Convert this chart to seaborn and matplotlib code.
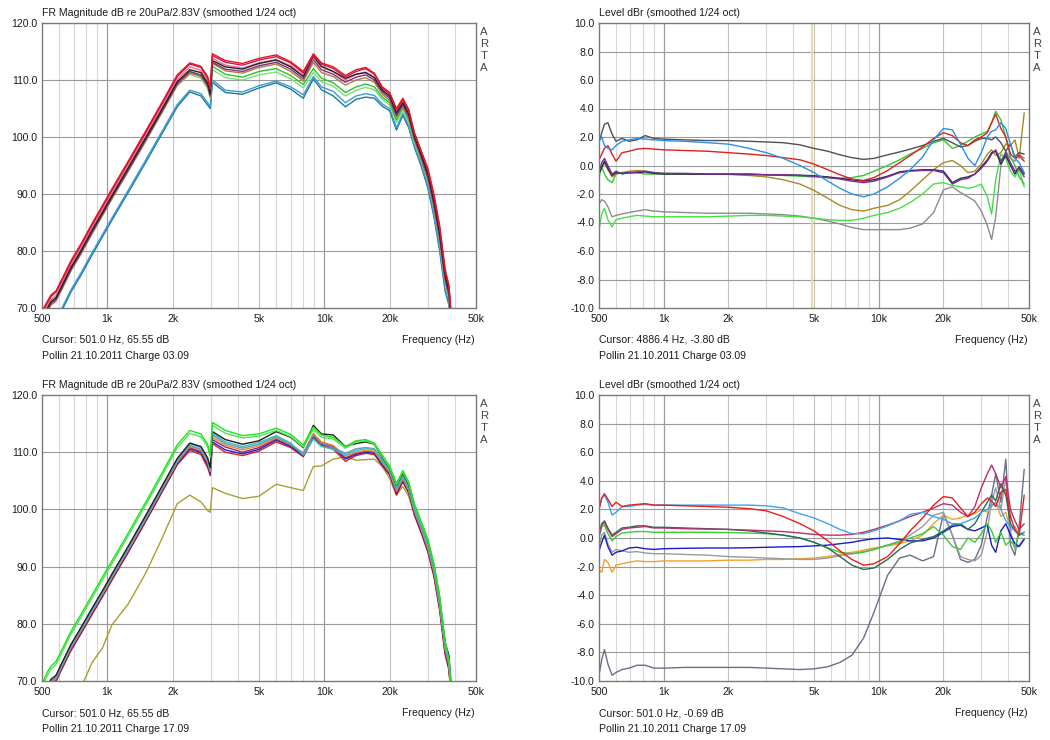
import matplotlib
matplotlib.use("Agg")
import matplotlib.pyplot as plt
import pandas as pd
import seaborn as sns
from matplotlib.ticker import FixedLocator, NullLocator

sns.set_theme(style="white")
plt.rcParams["font.family"] = ["Liberation Sans", "DejaVu Sans"]

# ---------------------------------------------------------------- frequency grids (Hz)
freq_fr = [505, 530, 550, 580, 620, 680, 760, 850, 950, 1050,
           1250, 1500, 1800, 2100, 2400, 2700, 2900, 2980, 3050, 3500,
           4200, 5000, 6000, 7000, 8000, 8900, 9700, 11000, 12500, 14000,
           15500, 17000, 18500, 20000, 21500, 23000, 24500, 26000, 28000, 30000,
           32000, 34000, 36000, 37500, 38600]

freq_rel = [500, 515, 530, 550, 575, 600, 640, 690, 750, 820,
            900, 1000, 1250, 1600, 2000, 2500, 3000, 3600, 4300, 5000,
            5800, 6600, 7500, 8500, 9500, 11000, 12500, 14000, 16000, 18000,
            20000, 22000, 24000, 26000, 28000, 30000, 32000, 33500, 35000, 37000,
            39000, 41000, 43000, 45000, 47500]

# ---------------------------------------------------------------- batch 03.09, SPL (dB)
fr_a_teal = [64.2, 65.6, 66.8, 67.5, 69.7, 72.8, 75.9, 79.3, 82.5, 85.4,
             90.3, 95.5, 100.8, 105.3, 107.9, 107.2, 105.6, 105.0, 109.6, 107.8,
             107.5, 108.6, 109.5, 108.4, 106.8, 110.2, 108.3, 107.2, 105.3, 106.6,
             107.0, 106.8, 105.4, 104.6, 101.2, 103.8, 101.6, 98.2, 94.8, 91.0,
             86.0, 80.0, 73.0, 70.5, 64.5]
fr_a_blue = [64.6, 66.0, 67.2, 67.9, 70.1, 73.2, 76.3, 79.7, 82.9, 85.8,
             90.7, 95.9, 101.2, 105.7, 108.2, 107.6, 106.0, 105.3, 110.0, 108.2,
             107.9, 109.0, 109.8, 108.8, 107.4, 110.6, 108.8, 108.0, 106.0, 107.2,
             107.6, 107.3, 105.8, 105.0, 101.6, 104.2, 102.0, 98.6, 95.2, 91.5,
             86.5, 80.5, 73.5, 71.0, 65.0]
fr_a_lightgreen = [68.2, 69.6, 70.7, 71.4, 73.6, 76.7, 79.8, 83.2, 86.4, 89.3,
                   94.2, 99.4, 104.6, 109.0, 111.0, 110.3, 108.5, 106.8, 111.8, 110.4,
                   110.0, 110.9, 111.4, 110.2, 108.6, 111.3, 109.7, 108.9, 107.2, 108.2,
                   108.7, 108.3, 106.6, 105.6, 102.5, 104.8, 102.6, 99.0, 95.8, 92.4,
                   87.5, 81.8, 74.5, 71.8, 66.0]
fr_a_green = [68.5, 69.9, 71.0, 71.7, 73.9, 77.0, 80.1, 83.5, 86.7, 89.6,
              94.5, 99.7, 105.0, 109.4, 111.4, 110.7, 108.9, 107.2, 112.4, 111.0,
              110.5, 111.5, 112.0, 110.8, 109.2, 112.0, 110.3, 109.5, 107.8, 108.8,
              109.3, 108.8, 107.0, 106.0, 103.0, 105.2, 103.0, 99.5, 96.2, 92.8,
              88.0, 82.3, 75.0, 72.2, 66.5]
fr_a_brown = [68.0, 69.4, 70.5, 71.2, 73.4, 76.5, 79.6, 83.0, 86.2, 89.1,
              94.0, 99.2, 104.5, 109.1, 111.2, 110.6, 108.8, 107.0, 112.9, 111.6,
              111.2, 112.2, 112.8, 111.5, 109.8, 113.1, 111.3, 110.6, 109.1, 110.0,
              110.4, 109.6, 107.5, 106.4, 103.5, 105.4, 103.2, 99.5, 96.0, 92.5,
              87.6, 82.0, 74.8, 72.0, 66.0]
fr_a_purple = [68.3, 69.7, 70.8, 71.5, 73.7, 76.8, 79.9, 83.3, 86.5, 89.4,
               94.3, 99.5, 104.8, 109.4, 111.5, 110.9, 109.1, 107.3, 113.1, 111.9,
               111.5, 112.5, 113.1, 111.9, 110.2, 113.6, 111.8, 111.0, 109.6, 110.5,
               110.9, 110.0, 107.9, 106.8, 103.8, 105.7, 103.6, 99.8, 96.5, 93.0,
               88.2, 82.5, 75.2, 72.4, 66.5]
fr_a_pink = [69.0, 70.4, 71.5, 72.2, 74.4, 77.5, 80.6, 84.0, 87.2, 90.1,
             95.0, 100.2, 105.5, 110.1, 112.3, 111.7, 109.8, 107.9, 113.8, 112.6,
             112.1, 113.0, 113.6, 112.5, 110.8, 113.8, 112.3, 111.4, 110.0, 111.0,
             111.4, 110.5, 108.3, 107.3, 104.5, 106.2, 104.2, 100.3, 97.0, 93.8,
             89.0, 83.6, 76.2, 73.6, 67.5]
fr_a_black = [68.6, 70.0, 71.1, 71.8, 74.0, 77.1, 80.2, 83.6, 86.8, 89.7,
              94.6, 99.8, 105.1, 109.7, 111.8, 111.3, 109.4, 107.6, 113.4, 112.3,
              111.9, 112.9, 113.5, 112.3, 110.6, 114.2, 112.4, 111.5, 110.3, 111.0,
              111.3, 110.4, 108.2, 107.2, 104.2, 106.0, 104.0, 100.1, 96.8, 93.5,
              88.6, 83.0, 75.8, 73.0, 67.0]
fr_a_crimson = [69.5, 70.9, 72.0, 72.8, 74.9, 78.0, 81.1, 84.5, 87.7, 90.6,
                95.5, 100.7, 106.0, 110.6, 112.8, 112.2, 110.3, 108.4, 114.3, 113.1,
                112.6, 113.5, 114.1, 113.0, 111.2, 114.3, 112.8, 112.0, 110.5, 111.5,
                112.0, 111.0, 108.6, 107.6, 104.8, 106.5, 104.6, 100.6, 97.4, 94.2,
                89.5, 84.0, 76.5, 74.0, 68.0]
fr_a_red = [69.8, 71.2, 72.3, 73.0, 75.2, 78.3, 81.4, 84.8, 88.0, 90.9,
            95.8, 101.0, 106.3, 110.9, 113.0, 112.4, 110.6, 108.6, 114.6, 113.4,
            112.9, 113.8, 114.4, 113.2, 111.5, 114.6, 113.0, 112.3, 110.8, 111.8,
            112.2, 111.2, 108.8, 107.8, 105.0, 106.8, 104.8, 100.8, 97.5, 94.5,
            90.0, 84.5, 77.0, 73.8, 68.0]

# ---------------------------------------------------------------- batch 17.09, SPL (dB)
fr_b_olive = [55.0, 56.5, 57.5, 59.0, 61.0, 64.0, 69.0, 73.2, 75.8, 79.8,
              83.5, 88.8, 95.2, 101.0, 102.5, 101.3, 99.8, 99.5, 103.8, 102.8,
              101.9, 102.3, 104.4, 103.8, 103.3, 107.5, 107.6, 108.8, 109.2, 108.6,
              108.7, 108.8, 107.5, 105.4, 102.5, 104.0, 102.3, 99.0, 96.0, 93.0,
              88.8, 83.2, 75.5, 72.0, 66.5]
fr_b_red = [66.5, 68.1, 69.2, 69.9, 72.2, 75.3, 78.4, 81.6, 84.7, 87.6,
            92.5, 97.8, 103.2, 107.8, 110.3, 109.6, 107.3, 105.9, 111.5, 110.0,
            109.4, 110.2, 111.8, 110.8, 109.2, 112.5, 111.2, 110.5, 108.4, 109.4,
            109.8, 109.6, 107.6, 106.0, 102.5, 104.8, 102.8, 99.0, 95.8, 92.5,
            88.2, 82.3, 74.6, 72.0, 66.0]
fr_b_blue = [66.7, 68.3, 69.4, 70.1, 72.4, 75.5, 78.6, 81.8, 84.9, 87.8,
             92.7, 98.0, 103.4, 108.0, 110.6, 109.9, 107.7, 106.2, 111.8, 110.4,
             109.7, 110.5, 112.1, 111.0, 109.4, 112.8, 111.4, 110.8, 108.8, 109.6,
             110.0, 109.8, 107.8, 106.2, 102.8, 105.0, 103.0, 99.3, 96.0, 92.8,
             88.5, 82.7, 75.0, 72.3, 66.5]
fr_b_purple = [66.9, 68.5, 69.6, 70.3, 72.6, 75.7, 78.8, 82.0, 85.1, 88.0,
               92.9, 98.2, 103.6, 108.2, 110.8, 110.1, 108.0, 106.5, 112.2, 110.9,
               110.0, 110.8, 112.3, 111.2, 109.6, 113.0, 111.6, 111.0, 109.0, 109.8,
               110.2, 110.0, 108.0, 106.4, 103.0, 105.2, 103.2, 99.5, 96.3, 93.0,
               88.8, 83.0, 75.4, 72.6, 66.8]
fr_b_orange = [67.0, 68.6, 69.7, 70.4, 72.7, 75.8, 78.9, 82.1, 85.2, 88.1,
               93.0, 98.3, 103.7, 108.3, 111.0, 110.3, 108.3, 106.6, 112.6, 111.2,
               110.4, 111.1, 112.5, 111.3, 109.9, 113.3, 111.8, 111.2, 109.3, 110.0,
               110.3, 110.2, 108.2, 106.5, 103.2, 105.4, 103.3, 99.7, 96.5, 93.2,
               89.0, 83.2, 75.6, 72.8, 67.0]
fr_b_steel = [67.2, 68.8, 69.9, 70.6, 72.9, 76.0, 79.1, 82.3, 85.4, 88.3,
              93.2, 98.5, 103.9, 108.5, 111.2, 110.5, 108.5, 106.8, 113.0, 111.5,
              110.7, 111.4, 112.7, 111.4, 109.8, 113.0, 111.5, 110.8, 109.8, 110.6,
              110.8, 110.6, 108.5, 106.8, 103.5, 105.7, 103.6, 100.0, 96.8, 93.6,
              89.4, 83.6, 76.0, 73.2, 67.2]
fr_b_cyan = [67.4, 69.0, 70.1, 70.8, 73.1, 76.2, 79.3, 82.5, 85.6, 88.5,
             93.4, 98.7, 104.1, 108.7, 111.5, 110.8, 108.8, 107.0, 113.3, 111.8,
             111.0, 111.7, 112.9, 111.6, 109.5, 112.3, 111.0, 110.5, 109.5, 110.3,
             110.6, 110.5, 108.4, 106.8, 103.8, 105.9, 103.9, 100.3, 97.0, 93.8,
             89.6, 84.0, 76.3, 73.5, 67.5]
fr_b_black = [67.6, 69.2, 70.3, 71.0, 73.3, 76.4, 79.5, 82.7, 85.8, 88.7,
              93.6, 98.9, 104.3, 108.9, 111.6, 111.0, 109.0, 107.3, 113.6, 112.2,
              111.4, 112.0, 113.6, 112.6, 110.8, 114.7, 113.2, 113.0, 111.0, 111.5,
              111.8, 111.4, 109.0, 107.2, 104.2, 106.3, 104.3, 100.8, 97.6, 94.5,
              90.2, 84.6, 76.8, 74.5, 68.5]
fr_b_green2 = [69.4, 71.0, 72.1, 72.9, 75.1, 78.2, 81.3, 84.5, 87.7, 90.5,
               95.4, 100.7, 106.1, 110.8, 113.3, 112.7, 110.9, 109.1, 114.7, 113.3,
               112.5, 112.8, 113.8, 112.7, 110.9, 114.0, 112.6, 112.3, 110.7, 111.8,
               112.0, 111.4, 109.2, 107.3, 104.3, 106.5, 104.5, 100.7, 97.5, 94.5,
               90.2, 84.5, 76.8, 73.8, 68.0]
fr_b_green = [69.9, 71.6, 72.6, 73.4, 75.6, 78.7, 81.8, 85.0, 88.2, 91.0,
              95.9, 101.2, 106.6, 111.3, 113.8, 113.2, 111.4, 109.6, 115.2, 113.8,
              112.9, 113.2, 114.2, 113.1, 111.3, 114.4, 113.0, 112.6, 111.0, 112.0,
              112.2, 111.6, 109.5, 107.6, 104.6, 106.8, 104.8, 101.0, 97.8, 94.8,
              90.5, 84.8, 77.0, 73.5, 68.0]

# ---------------------------------------------------------------- batch 03.09, relative level (dBr)
rel_a_gray = [-2.7, -2.4, -2.5, -2.9, -3.6, -3.5, -3.4, -3.3, -3.2, -3.1,
              -3.2, -3.25, -3.3, -3.35, -3.35, -3.35, -3.4, -3.45, -3.55, -3.7,
              -3.9, -4.1, -4.35, -4.5, -4.5, -4.5, -4.5, -4.4, -4.1, -3.3,
              -1.7, -1.5, -1.9, -2.2, -2.5, -3.2, -4.2, -5.2, -3.6, 0.0,
              1.0, 0.5, 0.3, 0.8, 0.5]
rel_a_lightgreen = [-4.5, -3.4, -3.0, -3.8, -4.3, -3.8, -3.7, -3.6, -3.5, -3.55,
                    -3.6, -3.6, -3.6, -3.6, -3.55, -3.5, -3.5, -3.55, -3.6, -3.7,
                    -3.8, -3.85, -3.85, -3.7, -3.5, -3.3, -3.0, -2.6, -2.0, -1.3,
                    -1.2, -1.4, -1.5, -1.6, -1.5, -1.3, -2.2, -3.4, -1.0, 0.8,
                    0.5, -0.4, -0.8, -0.3, -1.5]
rel_a_olive = [-0.5, -0.2, 0.2, -0.3, -0.8, -0.6, -0.5, -0.4, -0.35, -0.4,
               -0.5, -0.55, -0.6, -0.6, -0.62, -0.7, -0.8, -1.0, -1.3, -1.75,
               -2.3, -2.8, -3.1, -3.2, -3.0, -2.8, -2.4, -1.8, -1.0, -0.3,
               0.2, 0.35, 0.0, -0.5, -0.4, 0.1, 0.8, 1.1, 0.7, 0.9,
               1.5, 1.4, 1.8, 0.5, 3.7]
rel_a_green = [-0.8, -0.1, -0.6, -1.0, -1.2, -0.6, -0.5, -0.55, -0.5, -0.6,
               -0.6, -0.6, -0.6, -0.6, -0.6, -0.6, -0.65, -0.7, -0.75, -0.8,
               -0.85, -0.9, -0.85, -0.7, -0.4, 0.0, 0.4, 0.8, 1.2, 1.6,
               1.8, 1.2, 1.4, 1.7, 2.0, 2.2, 2.4, 3.0, 3.8, 3.2,
               2.0, 0.6, 0.0, -0.8, -1.3]
rel_a_navy = [-0.6, -0.1, 0.3, -0.2, -0.7, -0.5, -0.55, -0.5, -0.5, -0.45,
              -0.55, -0.6, -0.6, -0.62, -0.62, -0.63, -0.65, -0.66, -0.68, -0.72,
              -0.8, -0.9, -1.0, -1.1, -1.0, -0.75, -0.45, -0.35, -0.3, -0.3,
              -0.4, -1.2, -0.9, -0.8, -0.6, -0.1, 0.4, 0.9, 1.0, 0.1,
              0.7, 0.0, -0.6, -0.1, -0.6]
rel_a_purple = [-0.4, 0.2, 0.5, 0.0, -0.6, -0.4, -0.6, -0.5, -0.45, -0.4,
                -0.5, -0.55, -0.55, -0.6, -0.6, -0.6, -0.65, -0.65, -0.7, -0.75,
                -0.85, -0.95, -1.1, -1.2, -1.1, -0.8, -0.5, -0.4, -0.35, -0.35,
                -0.5, -1.3, -1.0, -0.9, -0.6, -0.2, 0.3, 0.8, 1.1, 0.3,
                0.9, 0.2, -0.4, -0.2, -0.8]
rel_a_darkgray = [1.6, 2.3, 2.9, 3.0, 2.2, 1.7, 1.9, 1.7, 1.8, 2.1,
                  1.9, 1.85, 1.8, 1.75, 1.75, 1.7, 1.65, 1.6, 1.45, 1.2,
                  1.0, 0.75, 0.55, 0.43, 0.5, 0.75, 0.95, 1.15, 1.4, 1.7,
                  1.9, 1.6, 1.3, 1.4, 1.7, 1.9, 1.9, 1.8, 2.0, 1.6,
                  1.0, 1.5, 0.6, 0.9, 0.8]
rel_a_red = [0.4, 0.8, 1.2, 1.4, 0.8, 0.3, 0.9, 1.0, 1.15, 1.2,
             1.15, 1.1, 1.05, 1.0, 0.9, 0.8, 0.7, 0.55, 0.4, 0.1,
             -0.3, -0.65, -0.95, -1.05, -0.85, -0.35, 0.2, 0.7, 1.3, 1.9,
             2.3, 2.1, 1.6, 1.4, 1.8, 2.0, 2.3, 3.0, 3.6, 2.6,
             2.0, 0.8, 0.5, 0.7, 0.3]
rel_a_blue = [1.7, 2.0, 1.4, 1.2, 1.1, 1.4, 1.7, 1.8, 1.9, 1.85,
              1.8, 1.75, 1.7, 1.6, 1.5, 1.2, 0.9, 0.5, 0.0, -0.5,
              -1.1, -1.6, -2.0, -2.2, -2.0, -1.5, -0.9, -0.3, 0.6, 1.8,
              2.6, 2.5, 1.5, 0.5, 0.0, 0.9, 2.0, 2.4, 2.5, 3.0,
              2.6, 1.5, 0.5, 0.2, -0.5]

# ---------------------------------------------------------------- batch 17.09, relative level (dBr)
rel_b_slate = [-9.6, -8.5, -7.8, -8.8, -9.6, -9.4, -9.2, -9.1, -8.9, -8.9,
               -9.1, -9.1, -9.05, -9.05, -9.05, -9.05, -9.1, -9.15, -9.2, -9.15,
               -9.0, -8.7, -8.2, -7.0, -5.2, -2.6, -1.4, -1.2, -1.6, -1.3,
               1.7, 0.2, -1.5, -1.7, -1.5, -0.5, 1.5, 3.0, 4.5, 2.5,
               5.5, -0.5, -1.2, 0.8, 4.8]
rel_b_orange = [-2.2, -2.4, -1.5, -1.7, -2.4, -1.9, -1.8, -1.7, -1.6, -1.65,
                -1.65, -1.6, -1.6, -1.6, -1.55, -1.55, -1.5, -1.5, -1.45, -1.4,
                -1.3, -1.15, -1.0, -0.85, -0.7, -0.55, -0.4, -0.2, 0.2, 1.0,
                1.6, 1.3, 1.4, 1.6, 1.7, 2.0, 1.8, 2.2, 2.5, 1.5,
                1.8, 0.5, 0.8, 0.3, 0.2]
rel_b_gray = [-0.6, 0.2, 0.4, -0.4, -1.0, -0.8, -0.9, -1.0, -0.95, -1.05,
              -1.1, -1.1, -1.15, -1.2, -1.3, -1.35, -1.4, -1.45, -1.5, -1.5,
              -1.4, -1.25, -1.1, -0.95, -0.8, -0.5, -0.2, 0.2, 0.8, 1.6,
              1.8, 0.2, -1.3, -1.5, -1.6, -1.2, 0.5, 2.5, 3.5, 2.0,
              4.2, 0.5, -0.8, -0.5, 0.0]
rel_b_blue = [-0.9, -0.3, 0.2, -0.6, -1.2, -1.0, -0.9, -0.7, -0.65, -0.75,
              -0.8, -0.75, -0.72, -0.7, -0.7, -0.68, -0.65, -0.62, -0.6, -0.55,
              -0.5, -0.4, -0.3, -0.15, -0.05, 0.0, -0.1, -0.2, -0.2, 0.0,
              0.4, 0.8, 0.9, 0.6, 0.5, 0.7, 0.9, -0.5, -1.0, 0.5,
              1.0, 0.2, -0.4, -0.6, -0.1]
rel_b_green = [0.0, 0.8, 0.9, 0.3, -0.2, 0.1, 0.35, 0.4, 0.45, 0.45,
               0.4, 0.4, 0.4, 0.4, 0.38, 0.35, 0.3, 0.2, 0.0, -0.3,
               -0.7, -1.0, -1.1, -1.0, -0.8, -0.5, -0.3, 0.0, 0.3, 0.8,
               0.2, -0.6, -0.8, 0.0, -0.3, 0.3, 1.0, 0.5, -0.3, 0.4,
               -0.5, -0.2, -0.6, 0.3, 0.2]
rel_b_darkgreen = [0.3, 1.0, 1.2, 0.7, 0.2, 0.4, 0.7, 0.75, 0.85, 0.85,
                   0.75, 0.75, 0.7, 0.65, 0.6, 0.5, 0.35, 0.2, 0.0, -0.3,
                   -0.7, -1.3, -1.9, -2.2, -2.1, -1.5, -0.8, -0.35, -0.1, 0.1,
                   0.5, 0.9, 1.0, 0.6, 1.0, 1.8, 2.5, 3.0, 2.6, 3.8,
                   3.0, 1.0, 0.5, 0.2, 0.4]
rel_b_magenta = [0.2, 0.9, 1.1, 0.6, 0.1, 0.3, 0.6, 0.7, 0.75, 0.8,
                 0.7, 0.7, 0.65, 0.62, 0.6, 0.55, 0.5, 0.45, 0.35, 0.25,
                 0.2, 0.2, 0.25, 0.4, 0.6, 0.9, 1.2, 1.5, 1.8, 2.1,
                 2.4, 2.3, 1.8, 1.5, 2.2, 3.5, 4.5, 5.1, 4.5, 3.5,
                 4.3, 2.0, 1.2, 0.6, 1.0]
rel_b_lightblue = [2.0, 2.8, 3.0, 2.5, 1.6, 1.8, 2.2, 2.2, 2.3, 2.35,
                   2.3, 2.3, 2.3, 2.3, 2.3, 2.3, 2.25, 2.1, 1.7, 1.4,
                   1.0, 0.6, 0.3, 0.3, 0.5, 0.85, 1.2, 1.65, 1.8, 1.5,
                   1.3, 1.0, 1.0, 1.2, 1.4, 1.8, 2.0, 2.3, 2.5, 2.0,
                   1.2, 0.8, 0.5, 0.3, 0.4]
rel_b_red = [2.0, 2.8, 3.1, 2.7, 2.2, 2.5, 2.2, 2.3, 2.35, 2.4,
             2.3, 2.3, 2.25, 2.2, 2.15, 2.05, 1.9, 1.5, 1.0, 0.5,
             -0.2, -0.9, -1.5, -1.9, -1.8, -1.3, -0.4, 0.5, 1.4, 2.3,
             2.9, 2.8, 2.1, 1.5, 1.8, 2.4, 2.8, 2.6, 2.2, 3.2,
             3.4, 1.5, 0.6, 0.2, 3.0]

# ---------------------------------------------------------------- labels
freq_ticks = [500, 1000, 2000, 5000, 10000, 20000, 50000]
freq_tick_labels = ["500", "1k", "2k", "5k", "10k", "20k", "50k"]
spl_ticks = [70, 80, 90, 100, 110, 120]
rel_ticks = [-10, -8, -6, -4, -2, 0, 2, 4, 6, 8, 10]
title_spl = "FR Magnitude dB re 20uPa/2.83V (smoothed 1/24 oct)"
title_rel = "Level dBr (smoothed 1/24 oct)"
cursor_texts = ["Cursor: 501.0 Hz, 65.55 dB", "Cursor: 4886.4 Hz, -3.80 dB",
                "Cursor: 501.0 Hz, 65.55 dB", "Cursor: 501.0 Hz, -0.69 dB"]
batch_texts = ["Pollin 21.10.2011 Charge 03.09", "Pollin 21.10.2011 Charge 03.09",
               "Pollin 21.10.2011 Charge 17.09", "Pollin 21.10.2011 Charge 17.09"]
cursor_freq_rel_a = 4886.4

W, H = 1050, 740
FS = 7.6
TXT = "#1c1c1c"

fig = plt.figure(figsize=(W / 100, H / 100), dpi=100, facecolor="white")


def add_axes_px(x0, y0, x1, y1):
    return fig.add_axes([x0 / W, 1 - y1 / H, (x1 - x0) / W, (y1 - y0) / H])


def ftext(x, y, s, **kw):
    kw.setdefault("fontsize", FS)
    kw.setdefault("color", TXT)
    fig.text(x / W, 1 - y / H, s, **kw)


def draw_panel(ax, freqs, curves, ylim, yticks):
    ax.set_xscale("log")
    ax.set_xlim(500, 50000)
    ax.set_ylim(*ylim)
    # frequency grid: decades darkest, 2/5 multiples medium, the rest light
    for f in [600, 700, 800, 900, 3000, 4000, 6000, 7000, 8000, 9000, 30000, 40000]:
        ax.axvline(f, color="#d6d6d6", lw=0.8, zorder=0)
    for f in [2000, 5000, 20000]:
        ax.axvline(f, color="#c2c2c2", lw=0.8, zorder=0)
    for f in [1000, 10000]:
        ax.axvline(f, color="#9c9c9c", lw=0.9, zorder=0)
    for y in yticks[1:-1]:
        ax.axhline(y, color="#9a9a9a", lw=0.8, zorder=0)

    frames = [pd.DataFrame({"freq": freqs, "level": vals, "curve": name})
              for name, _, vals in curves]
    df = pd.concat(frames, ignore_index=True)
    palette = {name: color for name, color, _ in curves}
    sns.lineplot(data=df, x="freq", y="level", hue="curve",
                 hue_order=[c[0] for c in curves], palette=palette,
                 estimator=None, sort=False, legend=False, lw=1.0, ax=ax)

    ax.set_xlabel("")
    ax.set_ylabel("")
    ax.xaxis.set_major_locator(FixedLocator(freq_ticks))
    ax.xaxis.set_minor_locator(NullLocator())
    ax.set_xticklabels(freq_tick_labels)
    ax.set_yticks(yticks)
    ax.set_yticklabels([f"{v:.1f}" for v in yticks])
    ax.tick_params(axis="x", length=0, labelsize=FS, pad=4.5, labelcolor=TXT)
    ax.tick_params(axis="y", length=0, labelsize=FS, pad=3.5, labelcolor=TXT)
    for sp in ax.spines.values():
        sp.set_color("#7a7a7a")
        sp.set_linewidth(1.0)
    ax.set_facecolor("white")


def decorate(x0, x1, y0, y1, title, cursor, batch):
    ftext(x0, y0 - 10, title, ha="left", va="center")
    for i, ch in enumerate("ARTA"):
        ftext(x1 + 8, y0 + 9 + i * 12, ch, ha="center", va="center",
              fontsize=FS + 0.6, color="#444444")
    ftext(x0, y1 + 32, cursor, ha="left", va="center")
    ftext(x0, y1 + 48, batch, ha="left", va="center")
    ftext(x1 - 1, y1 + 32, "Frequency (Hz)", ha="right", va="center")


panels = [
    # (x0, y0, x1, y1)
    (42, 23, 476, 308),
    (599, 23, 1029, 308),
    (42, 395, 476, 681),
    (599, 395, 1029, 681),
]

curves_spl_a = [
    ("teal", "#1b7a98", fr_a_teal),
    ("blue", "#3d99dc", fr_a_blue),
    ("lightgreen", "#74e274", fr_a_lightgreen),
    ("green", "#2cc22c", fr_a_green),
    ("brown", "#b57c3c", fr_a_brown),
    ("purple", "#7c2c8c", fr_a_purple),
    ("pink", "#f27080", fr_a_pink),
    ("black", "#222222", fr_a_black),
    ("crimson", "#c8145c", fr_a_crimson),
    ("red", "#e8141c", fr_a_red),
]
curves_rel_a = [
    ("gray", "#8c8c8c", rel_a_gray),
    ("lightgreen", "#44e044", rel_a_lightgreen),
    ("olive", "#a88a24", rel_a_olive),
    ("green", "#30c830", rel_a_green),
    ("navy", "#2a2a4a", rel_a_navy),
    ("purple", "#7a2a9a", rel_a_purple),
    ("darkgray", "#505050", rel_a_darkgray),
    ("red", "#e0201e", rel_a_red),
    ("blue", "#2a90e4", rel_a_blue),
]
curves_spl_b = [
    ("olive", "#a8a030", fr_b_olive),
    ("red", "#e02020", fr_b_red),
    ("blue", "#2222c4", fr_b_blue),
    ("purple", "#8a2a8a", fr_b_purple),
    ("orange", "#f08c20", fr_b_orange),
    ("steel", "#6a92c2", fr_b_steel),
    ("cyan", "#30c2b8", fr_b_cyan),
    ("black", "#1e1e1e", fr_b_black),
    ("green2", "#54e254", fr_b_green2),
    ("green", "#20e420", fr_b_green),
]
curves_rel_b = [
    ("slate", "#6c6c8c", rel_b_slate),
    ("orange", "#f4a030", rel_b_orange),
    ("gray", "#9a9a9a", rel_b_gray),
    ("blue", "#1a1ad0", rel_b_blue),
    ("green", "#36cc36", rel_b_green),
    ("darkgreen", "#2a6a5a", rel_b_darkgreen),
    ("magenta", "#b8306e", rel_b_magenta),
    ("lightblue", "#3aa4f2", rel_b_lightblue),
    ("red", "#e81e1e", rel_b_red),
]

spec = [
    (curves_spl_a, freq_fr, (70, 120), spl_ticks, title_spl),
    (curves_rel_a, freq_rel, (-10, 10), rel_ticks, title_rel),
    (curves_spl_b, freq_fr, (70, 120), spl_ticks, title_spl),
    (curves_rel_b, freq_rel, (-10, 10), rel_ticks, title_rel),
]

for i, ((x0, y0, x1, y1), (curves, freqs, ylim, yt, title)) in enumerate(zip(panels, spec)):
    ax = add_axes_px(x0, y0, x1, y1)
    if i == 1:
        ax.axvline(cursor_freq_rel_a, color="#e6dca4", lw=1.6, zorder=0.5)
    draw_panel(ax, freqs, curves, ylim, yt)
    decorate(x0, x1, y0, y1, title, cursor_texts[i], batch_texts[i])

fig.savefig("out.png", dpi=100, facecolor="white")
